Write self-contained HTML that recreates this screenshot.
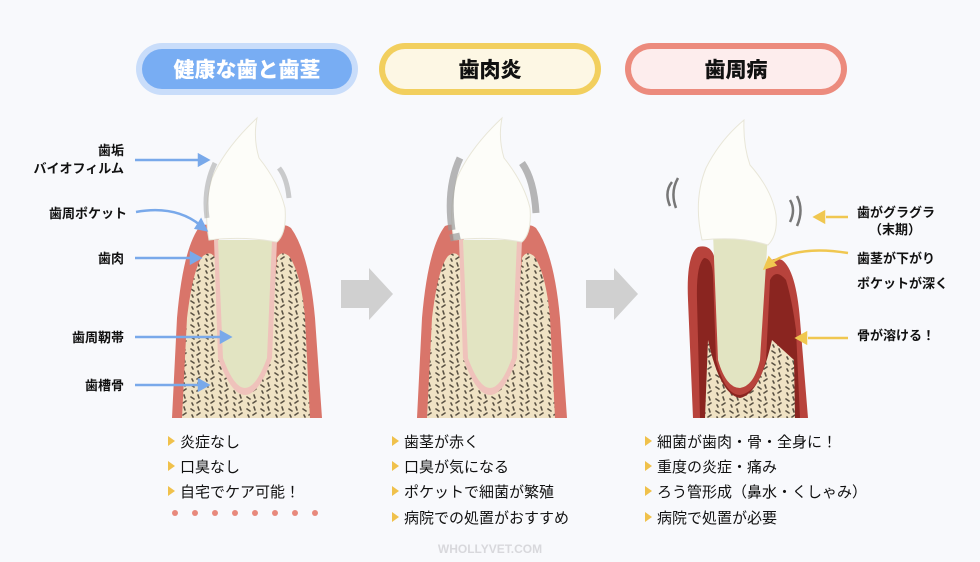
<!DOCTYPE html>
<html><head><meta charset="utf-8"><style>
html,body{margin:0;padding:0;background:#f8f9fc;}
svg{display:block;font-family:"Liberation Sans","Noto Sans CJK JP",sans-serif;}
.pl{font-size:13px;font-weight:bold;fill:#111;}
.li{font-size:15px;fill:#111;}
.hd{font-size:21px;font-weight:900;}
</style></head><body>
<svg width="980" height="562" viewBox="0 0 980 562">
<defs>
<pattern id="bone" width="14" height="12" patternUnits="userSpaceOnUse">
<rect width="14" height="12" fill="#efe2c4"/>
<path d="M2 3l3 2M9 1l1 3M11 7l-3 2M3 9l1 2" stroke="#5a5244" stroke-width="1.6" stroke-linecap="round"/>
</pattern>
<g id="base">
<path d="M-73 300 L-68 200 Q-62 130 -45 108 Q-35 104 -30 112 L-25 125 L25 125 L32 112 Q38 104 46 110 Q64 135 70 200 L77 300 Z" fill="#d9756a"/>
<path d="M-63 300 L-58 200 Q-52 150 -42 138 Q-34 132 -30 140 L-27 200 Q-20 265 0 275 Q20 265 27 200 L32 140 Q36 132 44 138 Q56 155 60 200 L65 300 Z" fill="url(#bone)"/>
<path d="M-31 122 L-27 240 Q-14 277 0 277 Q14 277 27 240 L32 122 Z" fill="#efc2bb"/>
<path d="M-27 122 L-22 240 Q-11 270 0 270 Q11 270 22 240 L27 122 Z" fill="#e2e4c2"/>
</g>
<g id="crown">
<path d="M-36 122 Q-42 90 -33 60 Q-20 30 12 0 Q8 20 14 40 Q34 65 40 90 Q42 115 32 124 Q0 118 -36 122Z" fill="#fdfdf9" stroke="#e8e6d8" stroke-width="1"/>
</g>
<g id="chev"><path d="M0 12 H28 V0 L52 26 L28 52 V40 H0 Z" fill="#d0d0d0"/></g>
</defs>

<rect x="136" y="43" width="222" height="52" rx="26" fill="#c9ddfa"/>
<rect x="142" y="49" width="210" height="40" rx="20" fill="#78adf3"/>
<text x="247" y="77" text-anchor="middle" class="hd" fill="#fff">健康な歯と歯茎</text>
<rect x="379" y="43" width="222" height="52" rx="26" fill="#f2cf5e"/>
<rect x="385" y="49" width="210" height="40" rx="20" fill="#fdf7e4"/>
<text x="490" y="77" text-anchor="middle" class="hd" fill="#111">歯肉炎</text>
<rect x="625" y="43" width="222" height="52" rx="26" fill="#ec8b7d"/>
<rect x="631" y="49" width="210" height="40" rx="20" fill="#fdeded"/>
<text x="736" y="77" text-anchor="middle" class="hd" fill="#111">歯周病</text>

<g transform="translate(245,118)"><use href="#base"/><use href="#crown"/>
<path d="M-38 100 Q-42 70 -30 45 M34 50 Q42 60 44 80" stroke="#aaa" stroke-width="5" fill="none" opacity=".6"/></g>
<g transform="translate(490,118)"><use href="#base"/><use href="#crown"/>
<path d="M-38 112 Q-44 70 -30 40 M32 45 Q44 62 46 95 M-30 118 L-40 120" stroke="#999" stroke-width="7" fill="none" opacity=".7"/></g>

<path d="M693 418 L688 300 Q686 255 698 247 Q710 244 714 256 L716 270 L765 270 Q770 255 782 260 Q796 270 800 320 L808 418 Z" fill="#b8433c"/>
<path d="M700 418 L697 300 Q696 265 704 258 Q712 258 713 275 L716 360 Q725 395 740 395 Q758 392 766 360 L770 280 Q776 268 786 280 Q792 300 796 330 L800 418 Z" fill="#8a2520"/>
<path d="M705 418 L708 340 Q720 395 740 398 Q760 394 772 340 L794 360 L795 418 Z" fill="url(#bone)"/>
<path d="M713 233 L718 360 Q726 388 740 388 Q754 386 760 360 L768 233 Z" fill="#e2e4c2"/>
<path d="M702 240 Q693 200 706 168 Q720 140 744 120 Q743 145 750 165 Q772 190 776 215 Q778 235 768 245 Q740 236 702 240Z" fill="#fdfdf9" stroke="#e8e6d8"/>
<path d="M672 182 Q664 192 670 206 M678 178 Q670 192 676 208 M790 200 Q796 210 790 222 M797 196 Q804 210 797 226" stroke="#777" stroke-width="2.5" fill="none"/>

<use href="#chev" x="341" y="268"/>
<use href="#chev" x="586" y="268"/>

<g class="pl" text-anchor="end">
<text x="124" y="155">歯垢</text><text x="124" y="173">バイオフィルム</text>
<text x="127" y="218">歯周ポケット</text>
<text x="124" y="263">歯肉</text>
<text x="124" y="342">歯周靭帯</text>
<text x="124" y="390">歯槽骨</text>
</g>
<g stroke="#79a9ea" stroke-width="2.5" fill="#79a9ea">
<line x1="135" y1="160" x2="200" y2="160"/><path d="M208 160l-9-5v10z"/>
<path d="M136 212 Q175 205 200 225" fill="none"/><path d="M206 230l-10-2 5-8z"/>
<line x1="135" y1="258" x2="192" y2="258"/><path d="M200 258l-9-5v10z"/>
<line x1="135" y1="337" x2="222" y2="337"/><path d="M230 337l-9-5v10z"/>
<line x1="135" y1="385" x2="200" y2="385"/><path d="M208 385l-9-5v10z"/>
</g>

<g class="pl">
<text x="857" y="217">歯がグラグラ</text><text x="869" y="234">（末期）</text>
<text x="857" y="263">歯茎が下がり</text><text x="857" y="288">ポケットが深く</text>
<text x="857" y="340">骨が溶ける！</text>
</g>
<g stroke="#f0c750" stroke-width="2.5" fill="#f0c750">
<line x1="848" y1="217" x2="826" y2="217"/><path d="M815 217l9-5v10z"/>
<path d="M848 253 Q800 245 772 262" fill="none"/><path d="M765 268l4-10 6 7z"/>
<line x1="848" y1="338" x2="808" y2="338"/><path d="M797 338l9-5v10z"/>
</g>

<g class="li">
<g fill="#f0c14b"><path d="M168 436l7 5-7 5z"/><path d="M168 461l7 5-7 5z"/><path d="M168 486l7 5-7 5z"/>
<path d="M392 436l7 5-7 5z"/><path d="M392 461l7 5-7 5z"/><path d="M392 486l7 5-7 5z"/><path d="M392 512l7 5-7 5z"/>
<path d="M645 436l7 5-7 5z"/><path d="M645 461l7 5-7 5z"/><path d="M645 486l7 5-7 5z"/><path d="M645 512l7 5-7 5z"/></g>
<text x="180" y="447">炎症なし</text><text x="180" y="472">口臭なし</text><text x="180" y="497">自宅でケア可能！</text>
<text x="404" y="447">歯茎が赤く</text><text x="404" y="472">口臭が気になる</text><text x="404" y="497">ポケットで細菌が繁殖</text><text x="404" y="523">病院での処置がおすすめ</text>
<text x="657" y="447">細菌が歯肉・骨・全身に！</text><text x="657" y="472">重度の炎症・痛み</text><text x="657" y="497">ろう管形成（鼻水・くしゃみ）</text><text x="657" y="523">病院で処置が必要</text>
</g>
<g fill="#e8897c"><circle cx="175" cy="513" r="3"/><circle cx="195" cy="513" r="3"/><circle cx="215" cy="513" r="3"/><circle cx="235" cy="513" r="3"/><circle cx="255" cy="513" r="3"/><circle cx="275" cy="513" r="3"/><circle cx="295" cy="513" r="3"/><circle cx="315" cy="513" r="3"/></g>
<text x="490" y="553" text-anchor="middle" font-size="12" font-weight="bold" fill="#d8d8dc">WHOLLYVET.COM</text>
</svg>
</body></html>
